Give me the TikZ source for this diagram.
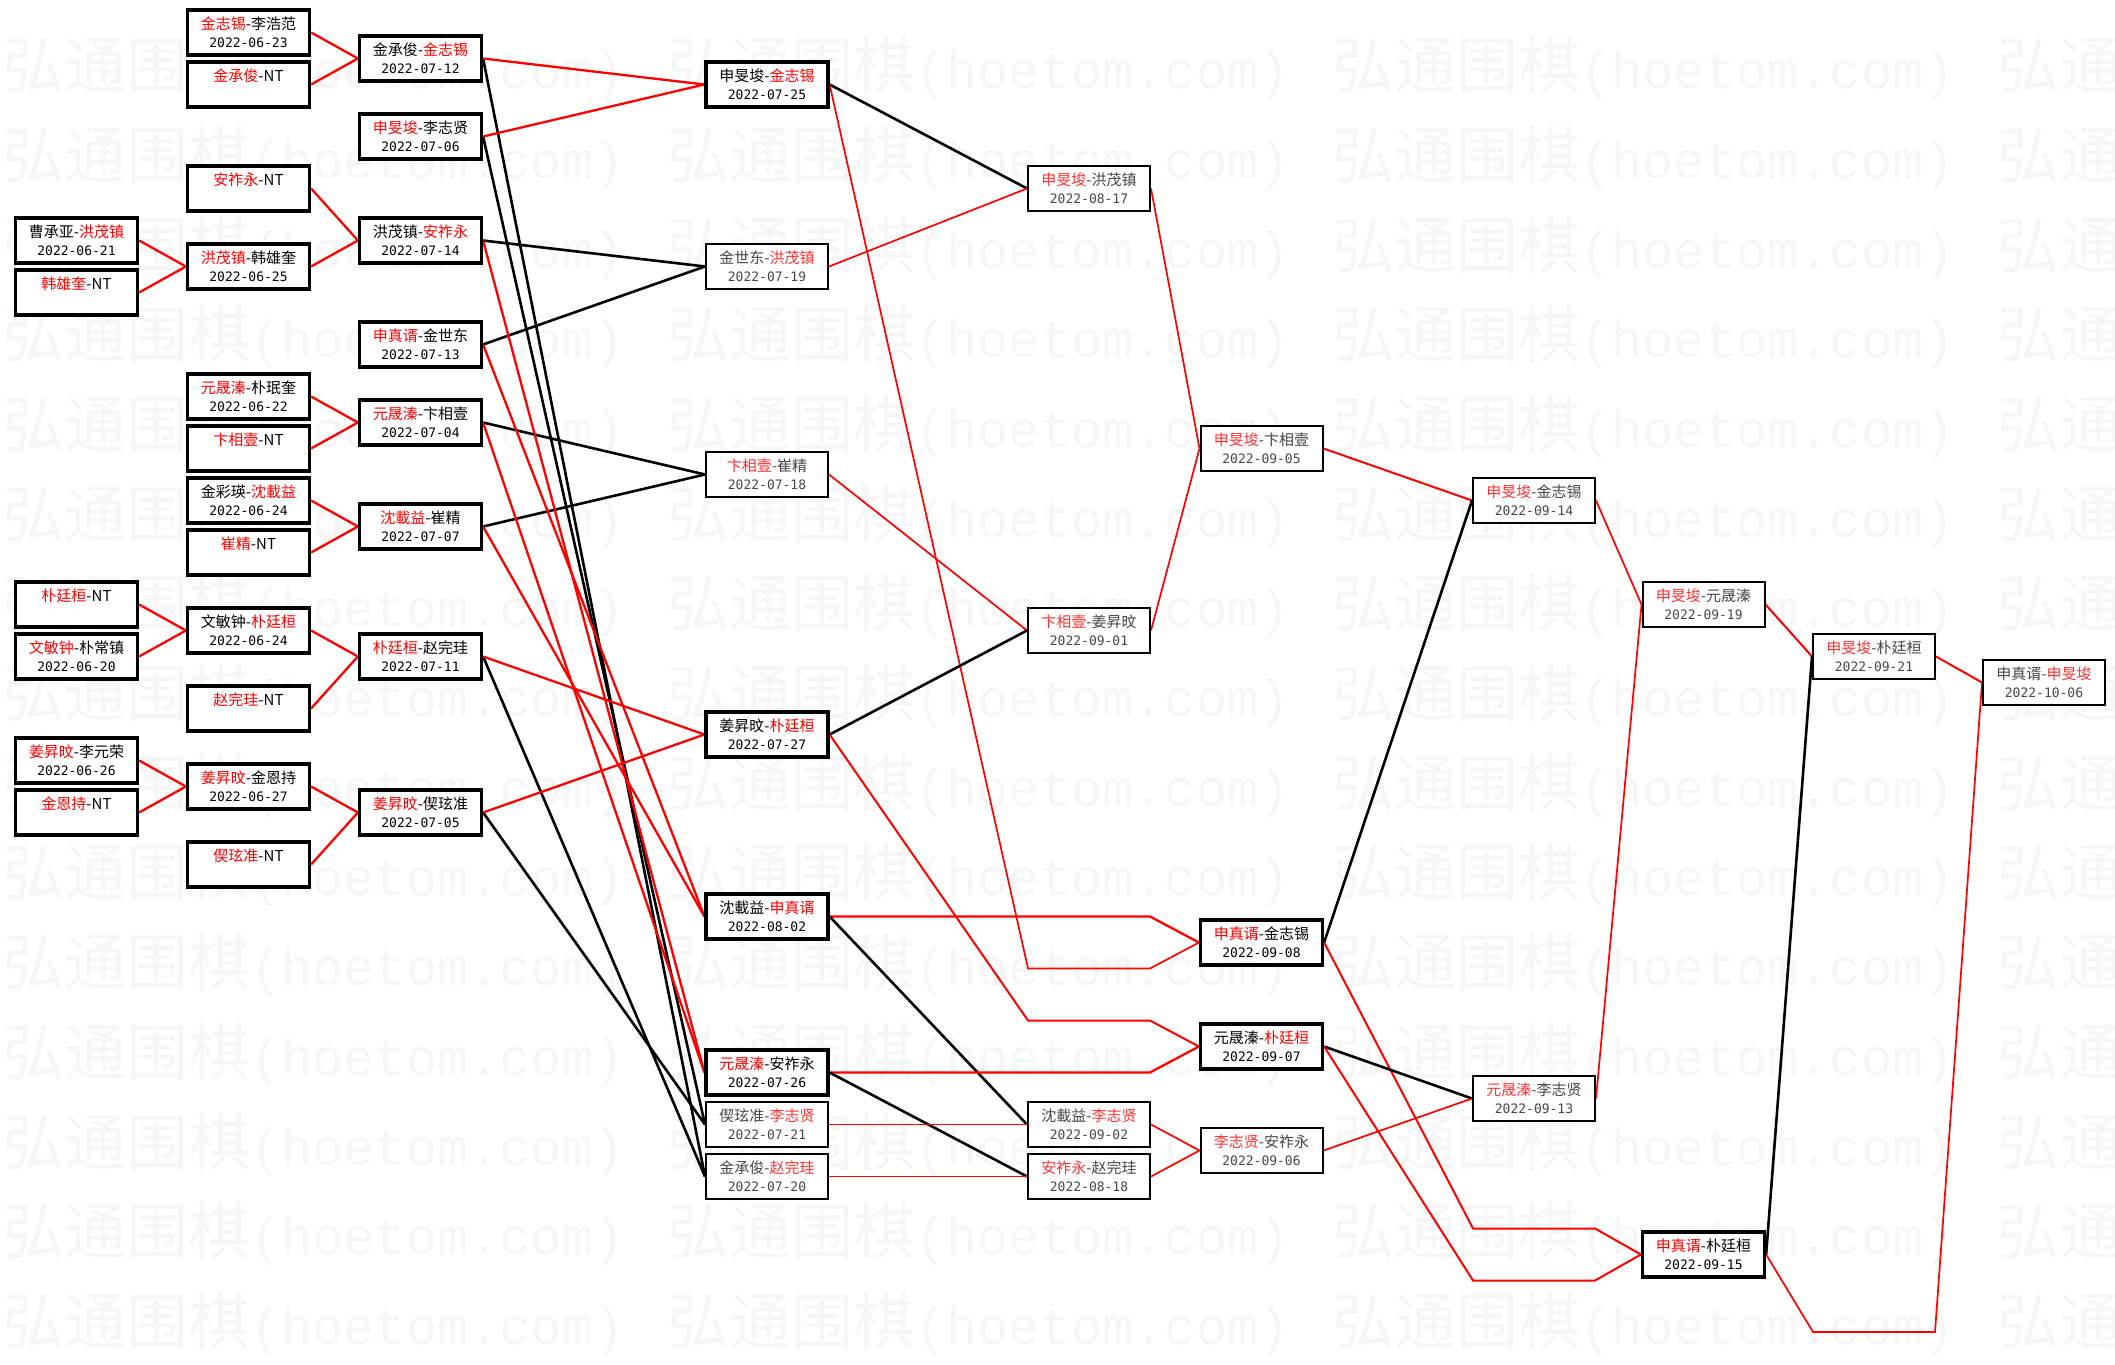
\documentclass[tikz,border=0pt]{standalone}
\usepackage{fontspec}
\newfontfamily\cjk{Noto Sans CJK SC}
\newfontfamily\datef{DejaVu Sans Mono}
\newfontfamily\wmlat{Liberation Mono}
\colorlet{rc}{red}
\newcommand\R[1]{\textcolor{rc}{#1}}
\newcommand\dt[1]{{\datef\fontsize{13}{18}\selectfont #1}}
\pgfdeclarelayer{wmk}
\pgfdeclarelayer{lns}
\pgfsetlayers{wmk,lns,main}
\tikzset{
  bx/.style={draw=black, fill=white, line width=3.2, minimum width=122, minimum height=45,
    inner sep=0, align=center, font=\cjk\fontsize{15}{18}\selectfont, text=black},
  tb/.style={bx, line width=2, text=black!72,
    execute at begin node={\colorlet{rc}{red!80!white}}},
  rk/.style={draw=red, line width=2.3},
  rm/.style={draw=red, line width=2.0},
  rt/.style={draw=red, line width=1.7},
  bk/.style={draw=black, line width=2.6},
  wm/.style={anchor=west, inner sep=0, text=black!3.5, font=\cjk\fontsize{62}{62}\selectfont},
}
\begin{document}
\begin{tikzpicture}[x=1pt, y=-1pt]
\useasboundingbox (0,0) rectangle (2115,1365);

% ---------- column A ----------
\node[bx] (a1) at (76.5,240.5) {曹承亚-\R{洪茂镇}\\\dt{2022-06-21}};
\node[bx] (a2) at (76.5,292.5) {\R{韩雄奎}-NT\\\dt{\phantom{0}}};
\node[bx] (a3) at (76.5,604.5) {\R{朴廷桓}-NT\\\dt{\phantom{0}}};
\node[bx] (a4) at (76.5,656.5) {\R{文敏钟}-朴常镇\\\dt{2022-06-20}};
\node[bx] (a5) at (76.5,760.5) {\R{姜昇旼}-李元荣\\\dt{2022-06-26}};
\node[bx] (a6) at (76.5,812.5) {\R{金恩持}-NT\\\dt{\phantom{0}}};

% ---------- column B ----------
\node[bx] (b1) at (248.5,32.5) {\R{金志锡}-李浩范\\\dt{2022-06-23}};
\node[bx] (b2) at (248.5,84.5) {\R{金承俊}-NT\\\dt{\phantom{0}}};
\node[bx] (b3) at (248.5,188.5) {\R{安祚永}-NT\\\dt{\phantom{0}}};
\node[bx] (b4) at (248.5,266.5) {\R{洪茂镇}-韩雄奎\\\dt{2022-06-25}};
\node[bx] (b5) at (248.5,396.5) {\R{元晟溱}-朴珉奎\\\dt{2022-06-22}};
\node[bx] (b6) at (248.5,448.5) {\R{卞相壹}-NT\\\dt{\phantom{0}}};
\node[bx] (b7) at (248.5,500.5) {金彩瑛-\R{沈載益}\\\dt{2022-06-24}};
\node[bx] (b8) at (248.5,552.5) {\R{崔精}-NT\\\dt{\phantom{0}}};
\node[bx] (b9) at (248.5,630.5) {文敏钟-\R{朴廷桓}\\\dt{2022-06-24}};
\node[bx] (b10) at (248.5,708.5) {\R{赵完珪}-NT\\\dt{\phantom{0}}};
\node[bx] (b11) at (248.5,786.5) {\R{姜昇旼}-金恩持\\\dt{2022-06-27}};
\node[bx] (b12) at (248.5,864.5) {\R{偰玹准}-NT\\\dt{\phantom{0}}};

% ---------- column C ----------
\node[bx] (c1) at (420.5,58.5) {金承俊-\R{金志锡}\\\dt{2022-07-12}};
\node[bx] (c2) at (420.5,136.5) {\R{申旻埈}-李志贤\\\dt{2022-07-06}};
\node[bx] (c3) at (420.5,240.5) {洪茂镇-\R{安祚永}\\\dt{2022-07-14}};
\node[bx] (c4) at (420.5,344.5) {\R{申真谞}-金世东\\\dt{2022-07-13}};
\node[bx] (c5) at (420.5,422.5) {\R{元晟溱}-卞相壹\\\dt{2022-07-04}};
\node[bx] (c6) at (420.5,526.5) {\R{沈載益}-崔精\\\dt{2022-07-07}};
\node[bx] (c7) at (420.5,656.5) {\R{朴廷桓}-赵完珪\\\dt{2022-07-11}};
\node[bx] (c8) at (420.5,812.5) {\R{姜昇旼}-偰玹准\\\dt{2022-07-05}};

% ---------- column D ----------
\node[bx] (d1) at (767,84.5) {申旻埈-\R{金志锡}\\\dt{2022-07-25}};
\node[tb] (d2) at (767,266.5) {金世东-\R{洪茂镇}\\\dt{2022-07-19}};
\node[tb] (d3) at (767,474.5) {\R{卞相壹}-崔精\\\dt{2022-07-18}};
\node[bx] (d4) at (767,734.5) {姜昇旼-\R{朴廷桓}\\\dt{2022-07-27}};
\node[bx] (d5) at (767,916.5) {沈載益-\R{申真谞}\\\dt{2022-08-02}};
\node[bx] (d6) at (767,1072.5) {\R{元晟溱}-安祚永\\\dt{2022-07-26}};
\node[tb] (d7) at (767,1124.5) {偰玹准-\R{李志贤}\\\dt{2022-07-21}};
\node[tb] (d8) at (767,1176.5) {金承俊-\R{赵完珪}\\\dt{2022-07-20}};

% ---------- column E ----------
\node[tb] (e1) at (1089,188.5) {\R{申旻埈}-洪茂镇\\\dt{2022-08-17}};
\node[tb] (e2) at (1089,630.5) {\R{卞相壹}-姜昇旼\\\dt{2022-09-01}};
\node[tb] (e3) at (1089,1124.5) {沈載益-\R{李志贤}\\\dt{2022-09-02}};
\node[tb] (e4) at (1089,1176.5) {\R{安祚永}-赵完珪\\\dt{2022-08-18}};

% ---------- column F ----------
\node[tb] (f1) at (1261.5,448.5) {\R{申旻埈}-卞相壹\\\dt{2022-09-05}};
\node[bx] (f2) at (1261.5,942.5) {\R{申真谞}-金志锡\\\dt{2022-09-08}};
\node[bx] (f3) at (1261.5,1046.5) {元晟溱-\R{朴廷桓}\\\dt{2022-09-07}};
\node[tb] (f4) at (1261.5,1150.5) {\R{李志贤}-安祚永\\\dt{2022-09-06}};

% ---------- column G ----------
\node[tb] (g1) at (1534,500.5) {\R{申旻埈}-金志锡\\\dt{2022-09-14}};
\node[tb] (g2) at (1534,1098.5) {\R{元晟溱}-李志贤\\\dt{2022-09-13}};

% ---------- column H ----------
\node[tb] (h1) at (1703.5,604.5) {\R{申旻埈}-元晟溱\\\dt{2022-09-19}};
\node[bx] (h2) at (1703.5,1254.5) {\R{申真谞}-朴廷桓\\\dt{2022-09-15}};

% ---------- column I, J ----------
\node[tb] (i1) at (1874,656.5) {\R{申旻埈}-朴廷桓\\\dt{2022-09-21}};
\node[tb] (j1) at (2044,682.5) {申真谞-\R{申旻埈}\\\dt{2022-10-06}};

% ---------- bend points ----------
\coordinate (k1) at (1028,968.5);
\coordinate (k2) at (1150,968.5);
\coordinate (k3) at (1028,1020.5);
\coordinate (k4) at (1150,1020.5);
\coordinate (k5) at (1150,916.5);
\coordinate (k6) at (1150,1072.5);
\coordinate (k7) at (1473,1228.5);
\coordinate (k8) at (1595,1228.5);
\coordinate (k9) at (1473,1280.5);
\coordinate (k10) at (1595,1280.5);
\coordinate (k11) at (1813,1332);
\coordinate (k12) at (1935,1332);

% ---------- connectors ----------
\begin{pgfonlayer}{lns}
\draw[rk] (a1.east) -- (b4.west);
\draw[rk] (a2.east) -- (b4.west);
\draw[rk] (a3.east) -- (b9.west);
\draw[rk] (a4.east) -- (b9.west);
\draw[rk] (a5.east) -- (b11.west);
\draw[rk] (a6.east) -- (b11.west);
\draw[rk] (b1.east) -- (c1.west);
\draw[rk] (b2.east) -- (c1.west);
\draw[rk] (b3.east) -- (c3.west);
\draw[rk] (b4.east) -- (c3.west);
\draw[rk] (b5.east) -- (c5.west);
\draw[rk] (b6.east) -- (c5.west);
\draw[rk] (b7.east) -- (c6.west);
\draw[rk] (b8.east) -- (c6.west);
\draw[rk] (b9.east) -- (c7.west);
\draw[rk] (b10.east) -- (c7.west);
\draw[rk] (b11.east) -- (c8.west);
\draw[rk] (b12.east) -- (c8.west);
% C -> D
\draw[bk] (c1.east) -- (d8.west);
\draw[bk] (c2.east) -- (d7.west);
\draw[bk] (c3.east) -- (d2.west);
\draw[bk] (c4.east) -- (d2.west);
\draw[bk] (c5.east) -- (d3.west);
\draw[bk] (c6.east) -- (d3.west);
\draw[bk] (c7.east) -- (d8.west);
\draw[bk] (c8.east) -- (d7.west);
\draw[rk] (c1.east) -- (d1.west);
\draw[rk] (c2.east) -- (d1.west);
\draw[rk] (c3.east) -- (d6.west);
\draw[rk] (c4.east) -- (d5.west);
\draw[rk] (c5.east) -- (d6.west);
\draw[rk] (c6.east) -- (d5.west);
\draw[rk] (c7.east) -- (d4.west);
\draw[rk] (c8.east) -- (d4.west);
% D -> E / F
\draw[bk] (d1.east) -- (e1.west);
\draw[rt] (d2.east) -- (e1.west);
\draw[rt] (d1.east) -- (k1) -- (k2) -- (f2.west);
\draw[rt] (d3.east) -- (e2.west);
\draw[bk] (d4.east) -- (e2.west);
\draw[rm] (d4.east) -- (k3) -- (k4) -- (f3.west);
\draw[rk] (d5.east) -- (k5) -- (f2.west);
\draw[bk] (d5.east) -- (e3.west);
\draw[rk] (d6.east) -- (k6) -- (f3.west);
\draw[bk] (d6.east) -- (e4.west);
\draw[rt] (d7.east) -- (e3.west);
\draw[rt] (d8.east) -- (e4.west);
% E -> F
\draw[rt] (e1.east) -- (f1.west);
\draw[rt] (e2.east) -- (f1.west);
\draw[rt] (e3.east) -- (f4.west);
\draw[rt] (e4.east) -- (f4.west);
% F -> G / H
\draw[rm] (f1.east) -- (g1.west);
\draw[bk] (f2.east) -- (g1.west);
\draw[rm] (f2.east) -- (k7) -- (k8) -- (h2.west);
\draw[bk] (f3.east) -- (g2.west);
\draw[rm] (f3.east) -- (k9) -- (k10) -- (h2.west);
\draw[rt] (f4.east) -- (g2.west);
% G -> H
\draw[rt] (g1.east) -- (h1.west);
\draw[rt] (g2.east) -- (h1.west);
% H -> I / J
\draw[rm] (h1.east) -- (i1.west);
\draw[bk] (h2.east) -- (i1.west);
\draw[rt] (h2.east) -- (k11) -- (k12) -- (j1.west);
\draw[rm] (i1.east) -- (j1.west);
\end{pgfonlayer}

% ---------- watermark ----------
\begin{pgfonlayer}{wmk}
\fill[white] (0,0) rectangle (2115,1365);
\begin{scope}
\clip (0,0) rectangle (2115,1365);
\foreach \r in {0,...,14}{
  \foreach \c in {0,...,3}{
    \node[wm] (w-\r-\c) at ({2+665*\c},{68+89.7*\r})
      {弘通围棋{\wmlat\fontsize{52}{62}\selectfont(hoetom.com)}};
  }
}
\end{scope}
\end{pgfonlayer}
\end{tikzpicture}
\end{document}
